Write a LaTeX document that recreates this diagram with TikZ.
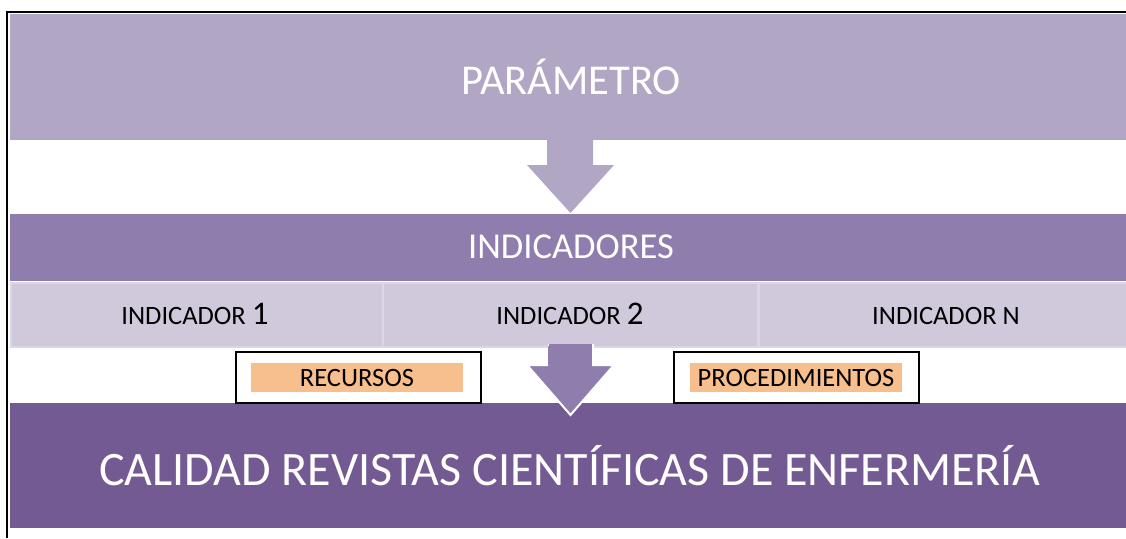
\documentclass[tikz,border=0pt]{standalone}
\usepackage{fontspec}
\setmainfont{Carlito}
\definecolor{cParam}{HTML}{B1A7C5}
\definecolor{cInd}{HTML}{8F7EAD}
\definecolor{cRow}{HTML}{D0C9DB}
\definecolor{cRowEdge}{HTML}{DCD7E4}
\definecolor{cBottom}{HTML}{735A92}
\definecolor{cOrange}{HTML}{F8BF8E}
\newcommand{\cellfont}{\fontsize{26.5}{30}\selectfont}
\newcommand{\bignum}[1]{{\fontsize{33}{36}\selectfont #1}}
\tikzset{
  band/.style={rectangle, inner sep=0pt, draw=none, anchor=north west},
  cellbox/.style={rectangle, inner sep=0pt, fill=cRow, draw=cRowEdge, line width=1.5pt, anchor=north west},
  celltext/.style={inner sep=0pt, text=black, font=\cellfont},
  labelframe/.style={rectangle, inner sep=0pt, draw=black, line width=1.5pt, fill=white, anchor=north west, minimum width=245pt, minimum height=51pt},
  labelfill/.style={rectangle, inner sep=0pt, fill=cOrange, anchor=north west, minimum width=212pt, minimum height=29pt},
  labeltext/.style={inner sep=0pt, text=black, font=\fontsize{26.5}{30}\selectfont},
  blockarrow/.style={line width=2pt, draw=white, line join=miter}
}
\begin{document}
\begin{tikzpicture}[x=1pt,y=-1pt]
\useasboundingbox (0,0) rectangle (1126,538);
% top band
\node[band, fill=cParam, minimum width=1116pt, minimum height=126pt] (param) at (10,14) {};
\node[text=white, font=\fontsize{42.5}{50}\selectfont, inner sep=0pt] (paramtxt) at (571,77) {PARÁMETRO};
% indicadores band
\node[band, fill=cInd, minimum width=1116pt, minimum height=67pt] (ind) at (10,214) {};
\node[text=white, font=\fontsize{36.5}{42}\selectfont, inner sep=0pt] (indtxt) at (571,247) {INDICADORES};
% arrow 1
\fill[cParam] (547,139) -- (593,139) -- (593,165) -- (614,165) -- (570.5,213) -- (527,165) -- (547,165) -- cycle;
% cells
\node[cellbox, minimum width=372pt, minimum height=64pt] (c1) at (10,282) {};
\node[celltext, anchor=base] (c1t) at (195,324) {INDICADOR \bignum{1}};
\node[cellbox, minimum width=375pt, minimum height=64pt] (c2) at (382,282) {};
\node[celltext, anchor=base] (c2t) at (570,324) {INDICADOR \bignum{2}};
\node[cellbox, minimum width=368pt, minimum height=64pt] (c3) at (758,282) {};
\node[celltext, anchor=base] (c3t) at (946,324) {INDICADOR N};
% bottom band
\node[band, fill=cBottom, minimum width=1116pt, minimum height=125pt] (calidad) at (10,403) {};
\node[text=white, font=\fontsize{48}{56}\selectfont, inner sep=0pt] (calidadtxt) at (570,466) {CALIDAD REVISTAS CIENTÍFICAS DE ENFERMERÍA};
% arrow 2
\filldraw[cInd, blockarrow] (548,345) -- (593,345) -- (593,365) -- (614,365) -- (570.5,415) -- (527,365) -- (548,365);
\fill[cInd] (548.6,344) rectangle (592.4,368);
% label boxes
\node[labelframe] (recF) at (235,351) {};
\node[labelfill] (rec) at (251,363) {};
\node[labeltext] (rect) at (357,378) {RECURSOS};
\node[labelframe] (procF) at (673,351) {};
\node[labelfill] (proc) at (690,363) {};
\node[labeltext] (proct) at (796,378) {PROCEDIMIENTOS};
% frame lines
\draw[black, line width=2pt] (7,538) -- (7,12) -- (1126,12);
\end{tikzpicture}
\end{document}
